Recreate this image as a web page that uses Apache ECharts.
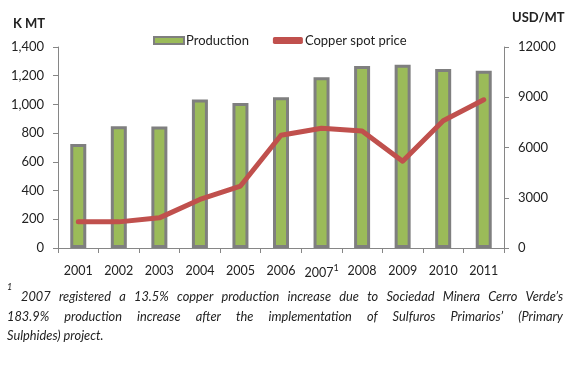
<!DOCTYPE html>
<html>
<head>
<meta charset="utf-8">
<script src="https://cdn.jsdelivr.net/npm/echarts@6/dist/echarts.min.js"></script>
<style>
html,body{margin:0;padding:0;background:#fff;}
#c{width:570px;height:367px;}
</style>
</head>
<body>
<div id="c"></div>
<script>
const years = ['2001','2002','2003','2004','2005','2006','2007','2008','2009','2010','2011'];
const production = [725, 848, 846, 1035, 1010, 1050, 1190, 1268, 1276, 1247, 1235];
const copperPrice = [1570, 1560, 1800, 2900, 3700, 6730, 7150, 6980, 5180, 7600, 8850];
const leftTicks = [0, 1400, 200];
const rightTicks = [0, 12000, 3000];
const footLines = [
  "2007 registered a 13.5% copper production increase due to Sociedad Minera Cerro Verde\u2019s",
  "183.9% production increase after the implementation of Sulfuros Primarios\u2019 (Primary",
  "Sulphides) project."
];

const FONT = 'Lato, "Open Sans", sans-serif';
const chart = echarts.init(document.getElementById('c'), null, {renderer:'canvas'});

const ctx = document.createElement('canvas').getContext('2d');
const fnSize = 12.8;
ctx.font = 'italic ' + fnSize + 'px Lato';
const footGraphics = [];
const lineSpecs = [{x0:21, x1:563, y:297, justify:true},{x0:7, x1:563, y:317, justify:true},{x0:7, x1:563, y:336, justify:false}];
footLines.forEach((ln, i) => {
  const words = ln.split(' ');
  const spec = lineSpecs[i];
  const widths = words.map(w => ctx.measureText(w).width);
  const total = widths.reduce((a,b)=>a+b,0);
  const gap = spec.justify ? (spec.x1 - spec.x0 - total) / (words.length - 1) : ctx.measureText(' ').width;
  let x = spec.x0;
  words.forEach((w, k) => {
    footGraphics.push({type:'text', x:x, y:spec.y, style:{text:w, font:'italic ' + fnSize + 'px Lato', fill:'#222', textVerticalAlign:'middle'}});
    x += widths[k] + gap;
  });
});
footGraphics.push({type:'text', x:7, y:287, style:{text:'1', font:'italic 9px Lato', fill:'#222', textVerticalAlign:'middle'}});

const option = {
  animation:false,
  textStyle:{fontFamily:FONT},
  grid:{left:58, right:66, top:47, bottom:119},
  legend:{
    left:148, top:29, itemWidth:30, itemHeight:7, itemGap:24,
    textStyle:{fontSize:13, color:'#222', fontFamily:FONT, padding:[0,0,0,-3]},
    data:[{name:'Production', icon:'rect'},{name:'Copper spot price', icon:'roundRect'}]
  },
  xAxis:{
    type:'category', data:years, boundaryGap:true,
    axisLine:{lineStyle:{color:'#868686', width:1}},
    axisTick:{show:true, length:5, lineStyle:{color:'#868686'}},
    axisLabel:{
      interval:0, color:'#222', fontSize:12.5, margin:16,
      formatter: v => v === '2007' ? '{a|2007}{s|1}' : v,
      rich:{a:{fontSize:12.5, color:'#222', fontFamily:FONT}, s:{fontSize:9, color:'#222', verticalAlign:'top', padding:[0,0,8,0], fontFamily:FONT}}
    }
  },
  yAxis:[{
    type:'value', min:leftTicks[0], max:leftTicks[1], interval:leftTicks[2],
    axisLine:{show:true, lineStyle:{color:'#868686'}},
    axisTick:{show:true, length:5, lineStyle:{color:'#868686'}},
    splitLine:{show:false},
    axisLabel:{color:'#222', fontSize:13, margin:14, formatter: v => v.toLocaleString('en-US')}
  },{
    type:'value', min:rightTicks[0], max:rightTicks[1], interval:rightTicks[2],
    axisLine:{show:true, lineStyle:{color:'#868686'}},
    axisTick:{show:true, length:5, lineStyle:{color:'#868686'}},
    splitLine:{show:false},
    axisLabel:{color:'#222', fontSize:13, margin:14, formatter: v => String(v)}
  }],
  series:[{
    name:'Production', type:'bar', data:production, barWidth:16,
    itemStyle:{color:'#9BBB59', borderColor:'#7F7F7F', borderWidth:3}
  },{
    name:'Copper spot price', type:'line', yAxisIndex:1, data:copperPrice,
    symbol:'none', lineStyle:{color:'#C0504D', width:5, cap:'round', join:'round'},
    itemStyle:{color:'#C0504D'}, z:5
  }],
  graphic:[
    {type:'text', x:13, y:24, style:{text:'K MT', font:'bold 13px Lato', fill:'#222', textVerticalAlign:'middle'}},
    {type:'text', x:512, y:18, style:{text:'USD/MT', font:'bold 13px Lato', fill:'#222', textVerticalAlign:'middle'}}
  ].concat(footGraphics)
};
chart.setOption(option);
</script>
</body>
</html>
